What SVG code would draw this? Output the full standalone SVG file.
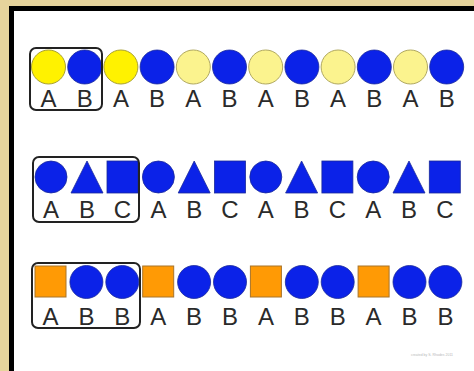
<svg xmlns="http://www.w3.org/2000/svg" width="474" height="371" viewBox="0 0 474 371">
<style>
.lbl{font-family:"Liberation Sans",Arial,sans-serif;font-size:24px;fill:#2a2a2a;text-anchor:middle}
.yb{fill:#FFF200;stroke:#A8A035;stroke-width:1}
.yp{fill:#FBF38E;stroke:#B0A860;stroke-width:1}
.bl{fill:#0B22E8;stroke:#1A2A9A;stroke-width:0.8}
.or{fill:#FF9A05;stroke:#A8742A;stroke-width:1}
.box{fill:none;stroke:#222;stroke-width:2}
</style>
<rect x="0" y="0" width="474" height="371" fill="#E6D49C"/>
<rect x="9" y="6" width="465" height="365" fill="#000"/>
<rect x="14" y="11" width="460" height="360" fill="#fff"/>

<g id="row1">
  <g id="r1-1"><circle class="yb" cx="48.5" cy="67" r="17"/><text class="lbl" x="48.5" y="107">A</text></g>
  <g id="r1-2"><circle class="bl" cx="84.7" cy="67" r="17"/><text class="lbl" x="84.7" y="107">B</text></g>
  <g id="r1-3"><circle class="yb" cx="120.9" cy="67" r="17"/><text class="lbl" x="120.9" y="107">A</text></g>
  <g id="r1-4"><circle class="bl" cx="157.1" cy="67" r="17"/><text class="lbl" x="157.1" y="107">B</text></g>
  <g id="r1-5"><circle class="yp" cx="193.3" cy="67" r="17"/><text class="lbl" x="193.3" y="107">A</text></g>
  <g id="r1-6"><circle class="bl" cx="229.5" cy="67" r="17"/><text class="lbl" x="229.5" y="107">B</text></g>
  <g id="r1-7"><circle class="yp" cx="265.7" cy="67" r="17"/><text class="lbl" x="265.7" y="107">A</text></g>
  <g id="r1-8"><circle class="bl" cx="301.9" cy="67" r="17"/><text class="lbl" x="301.9" y="107">B</text></g>
  <g id="r1-9"><circle class="yp" cx="338.1" cy="67" r="17"/><text class="lbl" x="338.1" y="107">A</text></g>
  <g id="r1-10"><circle class="bl" cx="374.3" cy="67" r="17"/><text class="lbl" x="374.3" y="107">B</text></g>
  <g id="r1-11"><circle class="yp" cx="410.5" cy="67" r="17"/><text class="lbl" x="410.5" y="107">A</text></g>
  <g id="r1-12"><circle class="bl" cx="446.7" cy="67" r="17"/><text class="lbl" x="446.7" y="107">B</text></g>
  <rect id="r1-box" class="box" x="30" y="48" width="72" height="62" rx="6"/>
</g>

<g id="row2">
  <g id="r2-1"><circle class="bl" cx="51" cy="177" r="16"/><text class="lbl" x="51" y="218">A</text></g>
  <g id="r2-2"><polygon class="bl" points="87,161 103,193 71,193"/><text class="lbl" x="87" y="218">B</text></g>
  <g id="r2-3"><rect class="bl" x="107" y="161" width="31" height="32"/><text class="lbl" x="122.5" y="218">C</text></g>
  <g id="r2-4"><circle class="bl" cx="158.4" cy="177" r="16"/><text class="lbl" x="158.4" y="218">A</text></g>
  <g id="r2-5"><polygon class="bl" points="194.2,161 210.2,193 178.2,193"/><text class="lbl" x="194.2" y="218">B</text></g>
  <g id="r2-6"><rect class="bl" x="214.5" y="161" width="31" height="32"/><text class="lbl" x="230" y="218">C</text></g>
  <g id="r2-7"><circle class="bl" cx="265.8" cy="177" r="16"/><text class="lbl" x="265.8" y="218">A</text></g>
  <g id="r2-8"><polygon class="bl" points="301.6,161 317.6,193 285.6,193"/><text class="lbl" x="301.6" y="218">B</text></g>
  <g id="r2-9"><rect class="bl" x="321.9" y="161" width="31" height="32"/><text class="lbl" x="337.4" y="218">C</text></g>
  <g id="r2-10"><circle class="bl" cx="373.2" cy="177" r="16"/><text class="lbl" x="373.2" y="218">A</text></g>
  <g id="r2-11"><polygon class="bl" points="409,161 425,193 393,193"/><text class="lbl" x="409" y="218">B</text></g>
  <g id="r2-12"><rect class="bl" x="429.3" y="161" width="31" height="32"/><text class="lbl" x="444.8" y="218">C</text></g>
  <rect id="r2-box" class="box" x="33" y="157" width="106" height="65" rx="6"/>
</g>

<g id="row3">
  <g id="r3-1"><rect class="or" x="35" y="266" width="31" height="31"/><text class="lbl" x="50.5" y="325">A</text></g>
  <g id="r3-2"><circle class="bl" cx="86.4" cy="282" r="16.5"/><text class="lbl" x="86.4" y="325">B</text></g>
  <g id="r3-3"><circle class="bl" cx="122.3" cy="282" r="16.5"/><text class="lbl" x="122.3" y="325">B</text></g>
  <g id="r3-4"><rect class="or" x="142.7" y="266" width="31" height="31"/><text class="lbl" x="158.2" y="325">A</text></g>
  <g id="r3-5"><circle class="bl" cx="194.1" cy="282" r="16.5"/><text class="lbl" x="194.1" y="325">B</text></g>
  <g id="r3-6"><circle class="bl" cx="230" cy="282" r="16.5"/><text class="lbl" x="230" y="325">B</text></g>
  <g id="r3-7"><rect class="or" x="250.4" y="266" width="31" height="31"/><text class="lbl" x="265.9" y="325">A</text></g>
  <g id="r3-8"><circle class="bl" cx="301.8" cy="282" r="16.5"/><text class="lbl" x="301.8" y="325">B</text></g>
  <g id="r3-9"><circle class="bl" cx="337.7" cy="282" r="16.5"/><text class="lbl" x="337.7" y="325">B</text></g>
  <g id="r3-10"><rect class="or" x="358.1" y="266" width="31" height="31"/><text class="lbl" x="373.6" y="325">A</text></g>
  <g id="r3-11"><circle class="bl" cx="409.5" cy="282" r="16.5"/><text class="lbl" x="409.5" y="325">B</text></g>
  <g id="r3-12"><circle class="bl" cx="445.4" cy="282" r="16.5"/><text class="lbl" x="445.4" y="325">B</text></g>
  <rect id="r3-box" class="box" x="32" y="263" width="108" height="65" rx="6"/>
</g>

<text x="432" y="356" font-family="Liberation Sans, Arial, sans-serif" font-size="3.5" fill="#b8b8b8" text-anchor="middle">created by S. Rhodes 2011</text>
</svg>
